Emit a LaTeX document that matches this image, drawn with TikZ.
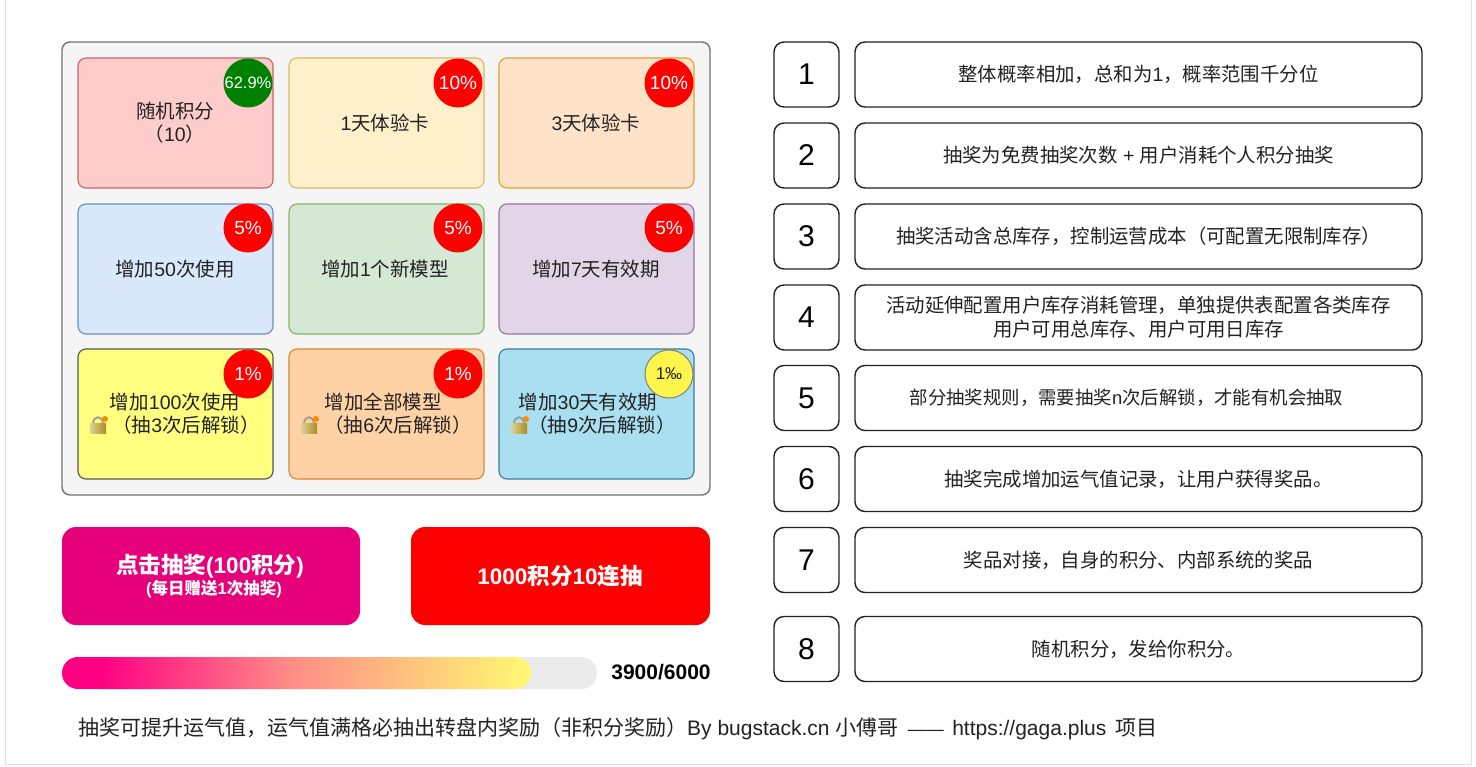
\documentclass[tikz,border=0pt]{standalone}
\usepackage{fontspec}
\setmainfont{Noto Sans CJK SC}
\newfontfamily\lat{Liberation Sans}
\usetikzlibrary{calc}
\definecolor{pinkbtn}{HTML}{E6007A}
\definecolor{gpink}{RGB}{255,0,130}
\definecolor{gmid}{RGB}{255,140,135}
\definecolor{gyel}{RGB}{255,250,115}
\definecolor{c1f}{HTML}{FFCCCC}\definecolor{c1d}{HTML}{C4656A}
\definecolor{c2f}{HTML}{FFF0CC}\definecolor{c2d}{HTML}{DDB765}
\definecolor{c3f}{HTML}{FFE3C9}\definecolor{c3d}{HTML}{E0A030}
\definecolor{c4f}{HTML}{DAE8FC}\definecolor{c4d}{HTML}{6C8EBF}
\definecolor{c5f}{HTML}{D5E8D4}\definecolor{c5d}{HTML}{82B366}
\definecolor{c6f}{HTML}{E1D5E7}\definecolor{c6d}{HTML}{9673A6}
\definecolor{c7f}{HTML}{FFFF80}\definecolor{c7d}{HTML}{555555}
\definecolor{c8f}{HTML}{FFD2A6}\definecolor{c8d}{HTML}{D98536}
\definecolor{c9f}{HTML}{A9DFF0}\definecolor{c9d}{HTML}{3F78A0}
\definecolor{ink}{HTML}{222222}
\definecolor{lockl}{HTML}{D8D49A}
\definecolor{lockr}{HTML}{B08A20}
\tikzset{
  x=1pt,y=-1pt,
  cell/.style={draw=#1,line width=1.1pt,rounded corners=8pt},
  badge/.style={circle,draw=none,fill=#1,minimum size=49pt,inner sep=0pt,text=white,font=\lat\fontsize{19}{19}\selectfont},
  numbox/.style={draw=ink,line width=1.4pt,rounded corners=10pt,fill=white,minimum width=65pt,minimum height=65pt,inner sep=0pt,font=\lat\fontsize{30}{30}\selectfont,text=black},
  descbox/.style={draw=ink,line width=1.4pt,rounded corners=10pt,fill=white,minimum width=567pt,minimum height=65pt,inner sep=0pt,align=center,font=\fontsize{19.4}{24}\selectfont,text=ink},
  lbl/.style={align=center,inner sep=0pt,font=\fontsize{19.5}{23}\selectfont,text=ink},
}
\newcommand{\lockicon}[2]{%
  \begin{scope}[shift={(#1,#2)}]
    \draw[line width=1.8pt,draw=black!40] (-5,0) .. controls (-5,-9) and (5,-9) .. (5,0);
    \fill[left color=lockl,right color=lockr] (-8,-1) rectangle (8,9);
    \fill[orange!90!yellow] (7,-5) circle (3);
  \end{scope}}
\newcommand{\cellbox}[5]{%
  \path[cell=#5d,fill=#5f] (#1,#2) rectangle ++(#3,#4);}
\begin{document}
\begin{tikzpicture}
\useasboundingbox (0,0) rectangle (1476,767);
\fill[white] (0,0) rectangle (1476,767);
\draw[black!12,line width=.8pt] (5,0) -- (5,764) -- (1471,764) -- (1471,0);
% panel
\path[draw=black!55,line width=1.4pt,fill=black!4,rounded corners=8pt] (62,42) rectangle (710,495);
\cellbox{78}{58}{195}{130}{c1}
\cellbox{289}{58}{195}{130}{c2}
\cellbox{499}{58}{195}{130}{c3}
\cellbox{78}{204}{195}{130}{c4}
\cellbox{289}{204}{195}{130}{c5}
\cellbox{499}{204}{195}{130}{c6}
\cellbox{78}{349}{195}{130}{c7}
\cellbox{289}{349}{195}{130}{c8}
\cellbox{499}{349}{195}{130}{c9}
\node[lbl] (t1) at (175,123) {随机积分\\（{\lat 10}）};
\node[lbl] (t2) at (385,123) {{\lat 1}天体验卡};
\node[lbl] (t3) at (596,123) {{\lat 3}天体验卡};
\node[lbl] (t4) at (175,269) {增加{\lat 50}次使用};
\node[lbl] (t5) at (385,269) {增加{\lat 1}个新模型};
\node[lbl] (t6) at (596,269) {增加{\lat 7}天有效期};
\node[lbl] (t7) at (175,414) {增加{\lat 100}次使用\\\hspace*{22pt}（抽{\lat 3}次后解锁）};
\node[lbl] (t8) at (383,414) {增加全部模型\\\hspace*{30pt}（抽{\lat 6}次后解锁）};
\node[lbl] (t9) at (588,414) {增加{\lat 30}天有效期\\\hspace*{28pt}（抽{\lat 9}次后解锁）};
\lockicon{98}{424}
\lockicon{309}{424}
\lockicon{519}{424}
\node[badge=green!50!black,font=\lat\fontsize{16.5}{17}\selectfont] (b1) at (248,83) {62.9\%};
\node[badge=red] (b2) at (458,83) {10\%};
\node[badge=red] (b3) at (669,83) {10\%};
\node[badge=red] (b4) at (248,228) {5\%};
\node[badge=red] (b5) at (458,228) {5\%};
\node[badge=red] (b6) at (669,228) {5\%};
\node[badge=red] (b7) at (248,374) {1\%};
\node[badge=red] (b8) at (458,374) {1\%};
\node[circle,draw=black!50,line width=1pt,fill=yellow!70!white,minimum size=48pt,inner sep=0pt,text=ink,font=\lat\fontsize{17}{17}\selectfont] (b9) at (669,374) {1‰};
% buttons
\path[fill=pinkbtn,rounded corners=14pt] (62,527) rectangle (360,625);
\path[fill=red,rounded corners=14pt] (411,527) rectangle (710,625);
\node[inner sep=0pt,text=white,font=\fontsize{22.5}{22}\bfseries\selectfont] (p1) at (210,566) {点击抽奖{\lat (100}积分{\lat )}};
\node[inner sep=0pt,text=white,font=\fontsize{16.5}{16}\bfseries\selectfont] (p2) at (214,589) {{\lat (}每日赠送{\lat 1}次抽奖{\lat )}};
\node[inner sep=0pt,text=white,font=\fontsize{22.5}{22}\bfseries\selectfont] (p3) at (560,576) {{\lat 1000}积分{\lat 10}连抽};
% progress
\path[fill=black!8,rounded corners=16pt] (62,657) rectangle (597,689);
\begin{scope}
  \path[clip,rounded corners=16pt] (62,657) rectangle (531,689);
  \fill[gpink] (62,657) rectangle (101,689);
  \shade[left color=gpink,right color=gmid] (100,657) rectangle (290,689);
  \shade[left color=gmid,right color=gyel] (289.5,657) rectangle (531,689);
\end{scope}
\node[inner sep=0pt,text=black,font=\lat\fontsize{21}{21}\bfseries\selectfont] (p4) at (661,672) {3900/6000};
\node[anchor=west,inner sep=0pt,text=ink,font=\fontsize{21}{21}\selectfont] (p5) at (78,729) {抽奖可提升运气值，运气值满格必抽出转盘内奖励（非积分奖励）{\lat By bugstack.cn }小傅哥{\lat\ \,\fontsize{18}{18}\selectfont —— \fontsize{21}{21}\selectfont\,https://gaga.plus\, }项目};
% right
\node[numbox] (n1) at (806.5,74.5) {1};
\node[numbox] (n2) at (806.5,155.5) {2};
\node[numbox] (n3) at (806.5,236.5) {3};
\node[numbox] (n4) at (806.5,317.5) {4};
\node[numbox] (n5) at (806.5,398) {5};
\node[numbox] (n6) at (806.5,479) {6};
\node[numbox] (n7) at (806.5,560) {7};
\node[numbox] (n8) at (806.5,649) {8};
\node[descbox] (d1) at (1138.5,74.5) {整体概率相加，总和为{\lat 1}，概率范围千分位};
\node[descbox] (d2) at (1138.5,155.5) {抽奖为免费抽奖次数{\lat\ + }用户消耗个人积分抽奖};
\node[descbox] (d3) at (1138.5,236.5) {抽奖活动含总库存，控制运营成本（可配置无限制库存）};
\node[descbox] (d4) at (1138.5,317.5) {活动延伸配置用户库存消耗管理，单独提供表配置各类库存\\用户可用总库存、用户可用日库存};
\node[descbox,font=\fontsize{18.4}{24}\selectfont] (d5) at (1138.5,398) {部分抽奖规则，需要抽奖{\lat n}次后解锁，才能有机会抽取\hspace*{24pt}};
\node[descbox] (d6) at (1138.5,479) {抽奖完成增加运气值记录，让用户获得奖品。};
\node[descbox] (d7) at (1138.5,560) {奖品对接，自身的积分、内部系统的奖品};
\node[descbox] (d8) at (1138.5,649) {随机积分，发给你积分。};
\end{tikzpicture}
\end{document}
